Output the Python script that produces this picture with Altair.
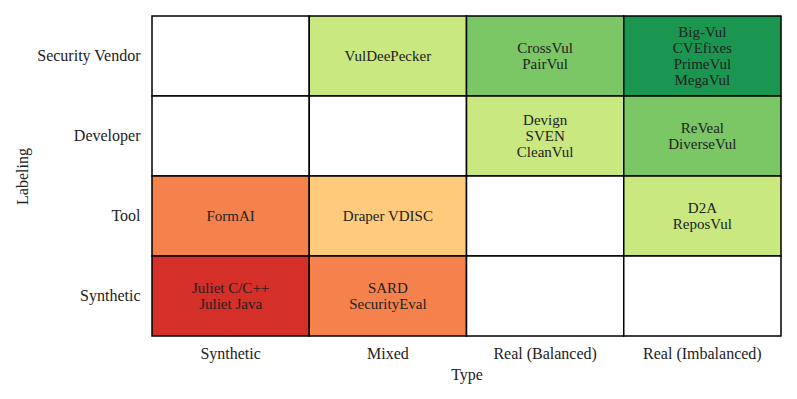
import altair as alt
import pandas as pd

types = ["Synthetic", "Mixed", "Real (Balanced)", "Real (Imbalanced)"]
labelings = ["Security Vendor", "Developer", "Tool", "Synthetic"]

cell_labeling = [
    "Security Vendor", "Security Vendor", "Security Vendor", "Security Vendor",
    "Developer", "Developer", "Developer", "Developer",
    "Tool", "Tool", "Tool", "Tool",
    "Synthetic", "Synthetic", "Synthetic", "Synthetic",
]
cell_type = types * 4
cell_datasets = [
    "", "VulDeePecker", "CrossVul\nPairVul", "Big-Vul\nCVEfixes\nPrimeVul\nMegaVul",
    "", "", "Devign\nSVEN\nCleanVul", "ReVeal\nDiverseVul",
    "FormAI", "Draper VDISC", "", "D2A\nReposVul",
    "Juliet C/C++\nJuliet Java", "SARD\nSecurityEval", "", "",
]
cell_level = [
    0, 4, 5, 6,
    0, 0, 4, 5,
    2, 3, 0, 4,
    1, 2, 0, 0,
]

level_domain = [0, 1, 2, 3, 4, 5, 6]
level_colors = ["#ffffff", "#d42f28", "#f5824c", "#fecb7d", "#c9e87f", "#7bc665", "#1a9650"]

df = pd.DataFrame({
    "Labeling": cell_labeling,
    "Type": cell_type,
    "Datasets": cell_datasets,
    "Level": cell_level,
})
df["Lines"] = df["Datasets"].str.split("\n")
df["N"] = df["Lines"].apply(len)

FONT = "Liberation Serif"
LINE_H = 16

x_enc = alt.X("Type:N", sort=types, title="Type",
              axis=alt.Axis(labelAngle=0, ticks=False, domain=False, labelPadding=9,
                            titlePadding=5))
y_enc = alt.Y("Labeling:N", sort=labelings, title="Labeling",
              axis=alt.Axis(ticks=False, domain=False, labelPadding=12, titlePadding=6))

base = alt.Chart(df).encode(x=x_enc, y=y_enc)

rects = base.mark_rect(stroke="black", strokeWidth=1.5).encode(
    color=alt.Color("Level:O", scale=alt.Scale(domain=level_domain, range=level_colors),
                    legend=None),
)

text_layers = [
    base.transform_filter(f"datum.N == {n}").mark_text(
        fontSize=15, font=FONT, color="#222222", lineHeight=LINE_H,
        baseline="middle", dy=-(n - 1) * LINE_H / 2,
    ).encode(text=alt.Text("Lines:N"))
    for n in sorted(df["N"].unique())
]

chart = alt.layer(rects, *text_layers).properties(
    width=629, height=320,
    padding={"left": 6, "top": 7, "right": 5, "bottom": 5},
).configure_view(stroke=None).configure_axis(
    labelFont=FONT, titleFont=FONT, labelFontSize=16, titleFontSize=16,
    labelColor="#222222", titleColor="#222222", titleFontWeight="normal", grid=False,
).configure_scale(bandPaddingInner=0, bandPaddingOuter=0)

chart.save("out.html", embed_options={"renderer": "svg", "actions": False})
